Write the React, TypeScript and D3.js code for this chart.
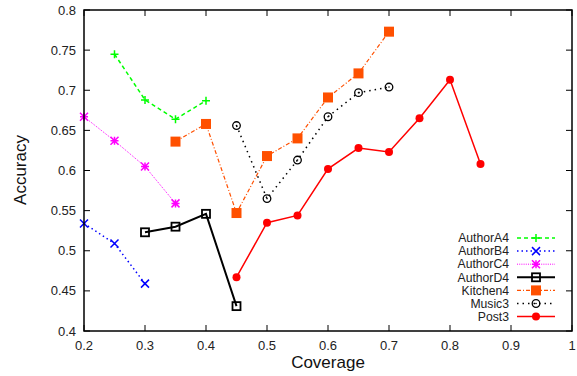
import React from "react";
import * as d3 from "d3";

const xTicks = [0.2, 0.3, 0.4, 0.5, 0.6, 0.7, 0.8, 0.9, 1];
const yTicks = [0.4, 0.45, 0.5, 0.55, 0.6, 0.65, 0.7, 0.75, 0.8];

const authorA4X = [0.25, 0.3, 0.35, 0.4];
const authorA4Y = [0.745, 0.688, 0.664, 0.687];
const authorB4X = [0.2, 0.25, 0.3];
const authorB4Y = [0.534, 0.509, 0.459];
const authorC4X = [0.2, 0.25, 0.3, 0.35];
const authorC4Y = [0.667, 0.637, 0.605, 0.559];
const authorD4X = [0.3, 0.35, 0.4, 0.45];
const authorD4Y = [0.523, 0.53, 0.546, 0.431];
const kitchen4X = [0.35, 0.4, 0.45, 0.5, 0.55, 0.6, 0.65, 0.7];
const kitchen4Y = [0.636, 0.658, 0.547, 0.618, 0.64, 0.691, 0.721, 0.773];
const music3X = [0.45, 0.5, 0.55, 0.6, 0.65, 0.7];
const music3Y = [0.656, 0.565, 0.613, 0.667, 0.697, 0.704];
const post3X = [0.45, 0.5, 0.55, 0.6, 0.65, 0.7, 0.75, 0.8, 0.85];
const post3Y = [0.467, 0.535, 0.544, 0.602, 0.628, 0.623, 0.665, 0.713, 0.608];

type Marker = "plus" | "cross" | "star" | "square" | "fsquare" | "circle" | "fcircle";
interface Series { name: string; xs: number[]; ys: number[]; color: string; dash: string; width: number; marker: Marker; }

const series: Series[] = [
  { name: "AuthorA4", xs: authorA4X, ys: authorA4Y, color: "#00ff00", dash: "4,3", width: 1.5, marker: "plus" },
  { name: "AuthorB4", xs: authorB4X, ys: authorB4Y, color: "#0000ff", dash: "1.5,3", width: 1.5, marker: "cross" },
  { name: "AuthorC4", xs: authorC4X, ys: authorC4Y, color: "#ff00ff", dash: "1,1.2", width: 1, marker: "star" },
  { name: "AuthorD4", xs: authorD4X, ys: authorD4Y, color: "#000000", dash: "", width: 2, marker: "square" },
  { name: "Kitchen4", xs: kitchen4X, ys: kitchen4Y, color: "#ff5000", dash: "4,2,1,2", width: 1.2, marker: "fsquare" },
  { name: "Music3", xs: music3X, ys: music3Y, color: "#000000", dash: "1.5,4", width: 1.5, marker: "circle" },
  { name: "Post3", xs: post3X, ys: post3Y, color: "#ff0000", dash: "", width: 1.5, marker: "fcircle" },
];

const L = 84, R = 572, T = 10, B = 331;
const x = d3.scaleLinear().domain([0.2, 1]).range([L, R]);
const y = d3.scaleLinear().domain([0.4, 0.8]).range([B, T]);
const fmt = (v: number) => String(+v.toFixed(2));
const font = "'Liberation Sans', Arial, sans-serif";

function MarkerShape({ m, cx, cy, color }: { m: Marker; cx: number; cy: number; color: string }) {
  const s = 4;
  switch (m) {
    case "plus":
      return <path d={`M${cx - s},${cy}H${cx + s}M${cx},${cy - s}V${cy + s}`} stroke={color} strokeWidth={1.5} />;
    case "cross":
      return <path d={`M${cx - s},${cy - s}L${cx + s},${cy + s}M${cx - s},${cy + s}L${cx + s},${cy - s}`} stroke={color} strokeWidth={1.5} />;
    case "star":
      return <path d={`M${cx - s},${cy}H${cx + s}M${cx},${cy - s}V${cy + s}M${cx - s},${cy - s}L${cx + s},${cy + s}M${cx - s},${cy + s}L${cx + s},${cy - s}`} stroke={color} strokeWidth={1.5} />;
    case "square":
      return <rect x={cx - 4} y={cy - 4} width={8} height={8} fill="none" stroke={color} strokeWidth={1.8} />;
    case "fsquare":
      return <rect x={cx - 5} y={cy - 5} width={10} height={10} fill={color} />;
    case "circle":
      return <g><circle cx={cx} cy={cy} r={3.8} fill="none" stroke={color} strokeWidth={1.3} /><circle cx={cx} cy={cy} r={0.8} fill={color} /></g>;
    case "fcircle":
      return <circle cx={cx} cy={cy} r={4} fill={color} />;
  }
}

export default function App() {
  const line = d3.line<[number, number]>().x(d => x(d[0])).y(d => y(d[1]));
  const legendY0 = 238;
  const legendDy = 13.1;
  return (
    <svg width={577} height={376} style={{ position: "absolute", left: 0, top: 0 }} fontFamily={font}>
      <rect width={577} height={376} fill="white" />
      {xTicks.map(t => (
        <g key={"x" + t}>
          <line x1={x(t)} x2={x(t)} y1={B} y2={B - 6} stroke="black" />
          <line x1={x(t)} x2={x(t)} y1={T} y2={T + 6} stroke="black" />
          <text x={x(t)} y={350} fontSize={13} textAnchor="middle" fill="#222">{fmt(t)}</text>
        </g>
      ))}
      {yTicks.map(t => (
        <g key={"y" + t}>
          <line x1={L} x2={L + 6} y1={y(t)} y2={y(t)} stroke="black" />
          <line x1={R} x2={R - 6} y1={y(t)} y2={y(t)} stroke="black" />
          <text x={76} y={y(t) + 4.5} fontSize={13} textAnchor="end" fill="#222">{fmt(t)}</text>
        </g>
      ))}
      {series.map(s => {
        const pts = s.xs.map((v, i) => [v, s.ys[i]] as [number, number]);
        return (
          <g key={s.name}>
            <path d={line(pts) || ""} fill="none" stroke={s.color} strokeWidth={s.width} strokeDasharray={s.dash || undefined} />
            {pts.map((p, i) => <MarkerShape key={i} m={s.marker} cx={x(p[0])} cy={y(p[1])} color={s.color} />)}
          </g>
        );
      })}
      <rect x={L} y={T} width={R - L} height={B - T} fill="none" stroke="black" strokeWidth={1.5} />
      {series.map((s, i) => {
        const ly = legendY0 + i * legendDy;
        return (
          <g key={"lg" + s.name}>
            <text x={509} y={ly + 4.2} fontSize={12.2} textAnchor="end" fill="#222">{s.name}</text>
            <line x1={517} x2={555} y1={ly} y2={ly} stroke={s.color} strokeWidth={s.width} strokeDasharray={s.dash || undefined} />
            <MarkerShape m={s.marker} cx={536} cy={ly} color={s.color} />
          </g>
        );
      })}
      <text x={328} y={368} fontSize={17} textAnchor="middle" fill="#111">Coverage</text>
      <text transform={`translate(26,170) rotate(-90)`} fontSize={17} textAnchor="middle" fill="#111">Accuracy</text>
    </svg>
  );
}
